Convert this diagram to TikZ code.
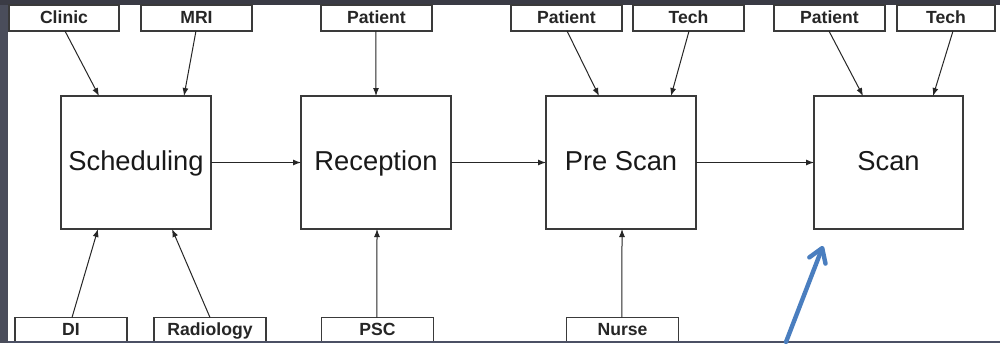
\documentclass[tikz,border=0pt]{standalone}
\usepackage{fontspec}
\setmainfont{Liberation Sans}
\usetikzlibrary{arrows.meta}
\definecolor{bgdark}{HTML}{3A3B45}
\definecolor{bgside}{HTML}{4A4D5B}
\definecolor{bgline}{HTML}{4B5064}
\definecolor{bluearr}{HTML}{4A7EBF}
\definecolor{boxline}{HTML}{3A3A3A}
\begin{document}
\begin{tikzpicture}[x=0.75pt,y=-0.75pt,
  lbl/.style={draw=boxline,line width=0.9pt,fill=white,inner sep=0pt,outer sep=0pt,
    text height=10.5pt,text depth=2.5pt,
    font=\fontsize{13.2}{14}\selectfont\bfseries,text=black!85},
  proc/.style={draw=boxline,line width=1.1pt,fill=white,inner sep=0pt,outer sep=0pt,
    text height=16pt,text depth=4pt,
    font=\fontsize{20.5}{22}\selectfont,text=black!90},
  sz/.style 2 args={minimum width=#1*0.75pt,minimum height=#2*0.75pt},
  conn/.style={draw=black!85,line width=0.75pt,-{Latex[length=6pt,width=4.5pt]}},
  bluearrow/.style={draw=bluearr,line width=3.3pt,line cap=round,
    -{Straight Barb[length=10pt,width=13pt,round]}},
]
\useasboundingbox (0,0) rectangle (1000,343);
\fill[bgdark] (0,0) rectangle (1000,343);
\fill[bgside] (0,5) rectangle (8,343);
\fill[white] (8,5) rectangle (1000,343);

% top labels
\node[lbl,sz={110}{26}] (clinic) at (64,18) {Clinic};
\node[lbl,sz={111}{26}] (mri) at (196.5,18) {MRI};
\node[lbl,sz={111}{26}] (pat1) at (376.5,18) {Patient};
\node[lbl,sz={111}{26}] (pat2) at (566.5,18) {Patient};
\node[lbl,sz={111}{26}] (tech2) at (688.5,18) {Tech};
\node[lbl,sz={111}{26}] (pat3) at (829.5,18) {Patient};
\node[lbl,sz={98}{26}] (tech3) at (946,18) {Tech};

% process boxes
\node[proc,sz={150}{133}] (sched) at (136,162.5) {Scheduling};
\node[proc,sz={150}{133}] (recep) at (376,162.5) {Reception};
\node[proc,sz={150}{133}] (prescan) at (621,162.5) {Pre Scan};
\node[proc,sz={149}{133}] (scan) at (888.5,162.5) {Scan};

% bottom labels
\node[lbl,sz={112}{25}] (di) at (71,330) {DI};
\node[lbl,sz={112}{25}] (radio) at (210,330) {Radiology};
\node[lbl,sz={112}{25}] (psc) at (377.5,330) {PSC};
\node[lbl,sz={112}{25}] (nurse) at (622.5,330) {Nurse};

% connectors
\draw[conn] ([xshift=0.75pt]clinic.south) -- ([xshift=-27.75pt]sched.north);
\draw[conn] ([xshift=-0.4pt]mri.south) -- ([xshift=36pt]sched.north);
\draw[conn] ([xshift=-0.4pt]pat1.south) -- (recep.north);
\draw[conn] ([xshift=0.4pt]pat2.south) -- ([xshift=-16.5pt]prescan.north);
\draw[conn] ([xshift=0.4pt]tech2.south) -- ([xshift=37.5pt]prescan.north);
\draw[conn] ([xshift=-0.4pt]pat3.south) -- ([xshift=-19.1pt]scan.north);
\draw[conn] ([xshift=5.25pt]tech3.south) -- ([xshift=33.4pt]scan.north);

\draw[conn] ([xshift=0.75pt]di.north) -- ([xshift=-28.5pt]sched.south);
\draw[conn] (radio.north) -- ([xshift=27pt]sched.south);
\draw[conn] ([xshift=-0.4pt]psc.north) -- ([xshift=0.75pt]recep.south);
\draw[conn] ([xshift=-0.4pt]nurse.north) -- ([xshift=0.75pt]prescan.south);

\draw[conn] (sched.east) -- (recep.west);
\draw[conn] (recep.east) -- (prescan.west);
\draw[conn] (prescan.east) -- (scan.west);

% bottom band
\fill[bgline] (8,341) rectangle (1000,343);

% blue pointer
\coordinate (btail) at (786,342);
\coordinate (bhead) at (823,246);
\draw[bluearrow] (btail) -- (bhead);
\end{tikzpicture}
\end{document}
